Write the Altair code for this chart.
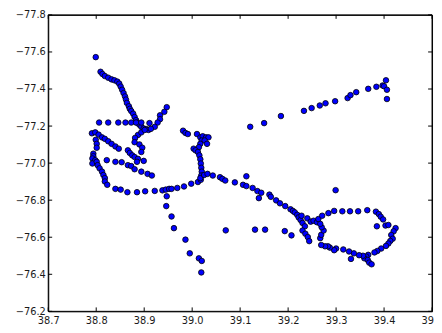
import altair as alt
import pandas as pd

# longitude-like x values and latitude-like y values
xs = [
    38.799, 38.809, 38.813, 38.818, 38.825, 38.832, 38.838, 38.844, 38.848, 38.851,
    38.854, 38.857, 38.860, 38.862, 38.864, 38.868, 38.870, 38.873, 38.877, 38.880,
    38.883, 38.885, 38.890, 38.894, 38.899, 38.904, 38.909,
    38.947, 38.942, 38.933, 38.933, 38.928, 38.922, 38.914,
    38.806, 38.825, 38.846, 38.861, 38.873, 38.883, 38.894, 38.911,
    38.791, 38.798, 38.805, 38.812, 38.818, 38.825, 38.832, 38.840, 38.847, 38.866,
    38.870, 38.875, 38.880, 38.887, 38.799, 38.801, 38.801, 38.794, 38.794, 38.792,
    38.798, 38.792, 38.801, 38.803, 38.807, 38.812, 38.815, 38.818, 38.818, 38.823,
    38.840, 38.851, 38.865, 38.885, 38.902, 38.922, 38.938, 38.945, 38.952, 38.957,
    38.969, 38.983, 38.998, 39.012, 39.018,
    38.822, 38.840, 38.853, 38.866, 38.873, 38.885, 38.899, 38.894, 38.907, 38.916, 38.880,
    38.887, 38.881, 38.880, 38.890, 38.896, 38.894, 38.894, 38.901,
    38.981, 38.986, 38.991, 39.010, 39.017, 39.022, 39.029, 39.034, 39.020, 39.026,
    39.017, 39.031, 39.014, 39.003, 39.007, 39.012, 39.015, 39.017, 39.018, 39.019,
    39.020, 39.019, 39.017,
    39.025, 39.032, 39.043, 39.058, 39.063, 39.069, 39.089, 39.106, 39.113, 39.126,
    39.113, 39.121, 39.150,
    38.947, 38.946, 38.957, 38.962, 38.986, 38.995, 39.014, 39.020, 39.019, 39.070,
    39.136, 39.144, 39.139, 39.161, 39.164, 39.175, 39.183, 39.194, 39.205, 39.210,
    39.214, 39.219, 39.222, 39.226, 39.228, 39.230, 39.235, 39.230, 39.236, 39.241,
    39.244, 39.240, 39.247, 39.253, 39.260, 39.263, 39.271, 39.284, 39.296, 39.313,
    39.329, 39.346, 39.365, 39.383, 39.389, 39.393, 39.398, 39.385, 39.403, 39.409,
    39.424, 39.420, 39.415, 39.418, 39.413, 39.409, 39.404, 39.394, 39.386, 39.380,
    39.367, 39.363, 39.359, 39.366, 39.369, 39.374, 39.356, 39.348, 39.337, 39.327,
    39.331, 39.315, 39.300, 39.296, 39.287, 39.283, 39.277, 39.269, 39.267, 39.269,
    39.274, 39.270, 39.267, 39.299,
    39.131, 39.152, 39.193, 39.207,
    39.185, 39.233, 39.249, 39.266, 39.278, 39.298, 39.324, 39.330, 39.342, 39.367,
    39.384, 39.397, 39.400, 39.404, 39.406, 39.406,
]
ys = [
    -77.572, -77.493, -77.481, -77.470, -77.461, -77.452, -77.447, -77.440, -77.429, -77.413,
    -77.396, -77.378, -77.360, -77.343, -77.325, -77.307, -77.293, -77.281, -77.267, -77.249,
    -77.232, -77.219, -77.207, -77.196, -77.187, -77.184, -77.179,
    -77.302, -77.277, -77.258, -77.237, -77.219, -77.196, -77.185,
    -77.219, -77.219, -77.219, -77.219, -77.219, -77.219, -77.219, -77.216,
    -77.161, -77.166, -77.154, -77.139, -77.131, -77.118, -77.104, -77.090, -77.078, -77.069,
    -77.055, -77.042, -77.033, -77.023, -77.126, -77.104, -77.083, -77.051, -77.037, -77.025,
    -77.016, -76.998, -77.007, -76.989, -76.972, -76.954, -76.936, -76.919, -76.901, -76.883,
    -76.861, -76.857, -76.843, -76.843, -76.848, -76.850, -76.853, -76.857, -76.861, -76.861,
    -76.866, -76.874, -76.889, -76.898, -76.910,
    -77.016, -77.007, -77.005, -76.989, -76.984, -77.007, -77.012, -76.954, -76.942, -76.933, -76.967,
    -77.152, -77.136, -77.113, -77.101, -77.083, -77.060, -77.166, -77.179,
    -77.175, -77.163, -77.157, -77.157, -77.139, -77.145, -77.139, -77.139, -77.122, -77.122,
    -77.104, -77.104, -77.086, -77.078, -77.069, -77.060, -77.042, -77.021, -76.998, -76.975,
    -76.954, -76.933, -76.919,
    -76.936, -76.942, -76.933, -76.924, -76.915, -76.906, -76.896, -76.883, -76.876, -76.866,
    -76.929, -77.196, -77.216,
    -76.821, -76.768, -76.712, -76.649, -76.587, -76.513, -76.486, -76.472, -76.410, -76.637,
    -76.849, -76.840, -76.811, -76.830, -76.818, -76.799, -76.783, -76.768, -76.751, -76.742,
    -76.734, -76.721, -76.707, -76.693, -76.716, -76.677, -76.659, -76.636, -76.619, -76.601,
    -76.579, -76.702, -76.684, -76.689, -76.681, -76.698, -76.716, -76.730, -76.742, -76.740,
    -76.740, -76.740, -76.746, -76.738, -76.725, -76.711, -76.696, -76.659, -76.663, -76.666,
    -76.649, -76.632, -76.612, -76.592, -76.580, -76.566, -76.553, -76.539, -76.526, -76.518,
    -76.505, -76.495, -76.486, -76.477, -76.463, -76.454, -76.500, -76.503, -76.513, -76.523,
    -76.483, -76.534, -76.539, -76.530, -76.544, -76.551, -76.551, -76.558, -76.595, -76.613,
    -76.636, -76.654, -76.672, -76.854,
    -76.641, -76.641, -76.633, -76.610,
    -77.254, -77.282, -77.297, -77.311, -77.323, -77.334, -77.351, -77.367, -77.383, -77.401,
    -77.412, -77.419, -77.415, -77.447, -77.396, -77.346,
]

x_ticks = [38.7, 38.8, 38.9, 39.0, 39.1, 39.2, 39.3, 39.4, 39.5]
y_ticks = [-77.8, -77.6, -77.4, -77.2, -77.0, -76.8, -76.6, -76.4, -76.2]

W, H = 391, 302

pts = pd.DataFrame({"x": xs, "y": ys})
xt = pd.DataFrame({"x": x_ticks})
yt = pd.DataFrame({"y": y_ticks})
frame_df = pd.DataFrame({"k": [0]})

xscale = alt.Scale(domain=[38.7, 39.5], nice=False, zero=False)
yscale = alt.Scale(domain=[-77.8, -76.2], nice=False, zero=False, reverse=True)

label_font = "DejaVu Sans"
xaxis = alt.Axis(values=x_ticks, format=".1f", title=None, grid=False,
                 domain=False, ticks=False, labelPadding=4,
                 labelFlush=False, labelOverlap=False,
                 labelFont=label_font, labelFontSize=10, labelColor="#1a1a1a")
yaxis = alt.Axis(values=y_ticks, format=".1f", title=None, grid=False,
                 domain=False, ticks=False, labelPadding=3,
                 labelFlush=False, labelOverlap=False,
                 labelFont=label_font, labelFontSize=10, labelColor="#1a1a1a")

points = alt.Chart(pts).mark_point(
    filled=True, shape="circle", size=32, fill="#0000ff", stroke="black",
    strokeWidth=0.8, opacity=1,
).encode(
    x=alt.X("x:Q", scale=xscale, axis=xaxis),
    y=alt.Y("y:Q", scale=yscale, axis=yaxis),
)

frame = alt.Chart(frame_df).mark_rect(
    filled=False, stroke="black", strokeWidth=1, fillOpacity=0
).encode(x=alt.value(0), x2=alt.value(W), y=alt.value(0), y2=alt.value(H))

tick_len = 4
bottom = alt.Chart(xt).mark_rule(color="black", strokeWidth=1).encode(
    x=alt.X("x:Q", scale=xscale, axis=xaxis),
    y=alt.value(H), y2=alt.value(H - tick_len))
top = alt.Chart(xt).mark_rule(color="black", strokeWidth=1).encode(
    x=alt.X("x:Q", scale=xscale, axis=xaxis),
    y=alt.value(0), y2=alt.value(tick_len))
left = alt.Chart(yt).mark_rule(color="black", strokeWidth=1).encode(
    y=alt.Y("y:Q", scale=yscale, axis=yaxis),
    x=alt.value(0), x2=alt.value(tick_len))
right = alt.Chart(yt).mark_rule(color="black", strokeWidth=1).encode(
    y=alt.Y("y:Q", scale=yscale, axis=yaxis),
    x=alt.value(W), x2=alt.value(W - tick_len))

chart = alt.layer(points, bottom, top, left, right, frame).properties(
    width=W, height=H,
    autosize=alt.AutoSizeParams(type="none"),
    padding={"left": 41, "top": 4, "right": 2, "bottom": 17},
    background="white",
).configure_view(stroke="black", strokeWidth=1)

chart.save("out.html", embed_options={"renderer": "svg", "actions": False})
